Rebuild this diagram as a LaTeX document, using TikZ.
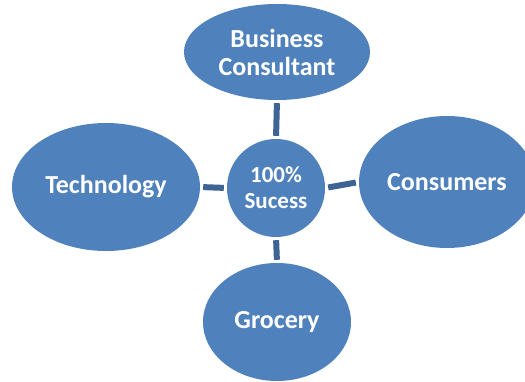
\documentclass[tikz,border=0pt]{standalone}
\usepackage{fontspec}
\setmainfont{Carlito}
\usetikzlibrary{shapes.geometric}
\definecolor{HubBlue}{RGB}{79, 129, 189}
\definecolor{LinkBlue}{RGB}{62, 100, 150}

\begin{document}
\begin{tikzpicture}[
  x=1pt, y=-1pt,
  every node/.style={font=\bfseries\fontsize{26}{28}\selectfont, text=white},
  bubble/.style={ellipse, fill=HubBlue, inner sep=0pt, align=center},
  hub/.style={circle, fill=HubBlue, inner sep=0pt, align=center,
              minimum size=98pt, font=\bfseries\fontsize{23}{26}\selectfont},
  link/.style={draw=LinkBlue, line width=6pt, shorten <=3pt, shorten >=3pt}
]
  \useasboundingbox (0,0) rectangle (525,382);
  \begin{scope}
  \clip (0,0) rectangle (525,382);

  %% Centre
  \node[hub] (success) at (276,188) {100\%\\Sucess};

  %% Outer ellipses
  \node[bubble, minimum width=186pt, minimum height=96pt]  (consult) at (277,52)  {Business\\Consultant};
  \node[bubble, minimum width=188pt, minimum height=128pt] (tech)    at (106,187) {Technology};
  \node[bubble, minimum width=176pt, minimum height=132pt] (consum)  at (447,182) {Consumers};
  \node[bubble, minimum width=148pt, minimum height=118pt] (grocery) at (277,322) {Grocery};

  %% Links
  \draw[link] (success.north) -- (consult.south);
  \draw[link] (success.west)  -- (tech.east);
  \draw[link] (success.east)  -- (consum.west);
  \draw[link] (success.south) -- (grocery.north);
  \end{scope}
\end{tikzpicture}
\end{document}
